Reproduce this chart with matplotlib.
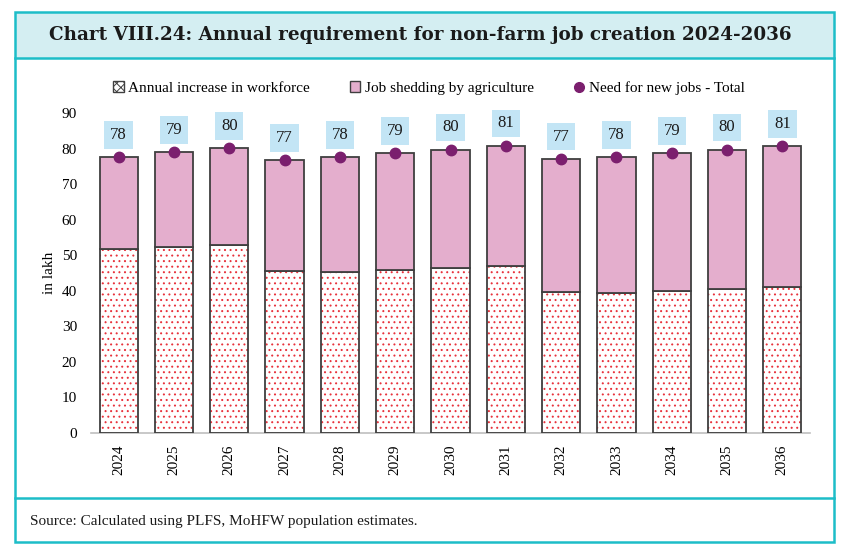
import matplotlib.pyplot as plt
import matplotlib.patches as mpatches
from matplotlib.lines import Line2D
import numpy as np

plt.rcParams['font.family'] = ['Liberation Serif', 'DejaVu Serif']
plt.rcParams['hatch.linewidth'] = 0.7

# data (lakh)
years = ['2024', '2025', '2026', '2027', '2028', '2029', '2030',
         '2031', '2032', '2033', '2034', '2035', '2036']
workforce = [51.7, 52.3, 52.9, 45.5, 45.3, 45.9, 46.3, 47.0, 39.7, 39.5, 40.0, 40.5, 41.0]
total = [77.6, 78.9, 80.1, 76.8, 77.5, 78.7, 79.7, 80.8, 77.1, 77.6, 78.7, 79.7, 80.7]
shedding = [t - w for t, w in zip(total, workforce)]

teal = '#1DBDC8'
pink = '#E4AECD'
purple = '#7B1F6E'
edge = '#3F3F3F'

fig = plt.figure(figsize=(8.41, 5.55), dpi=100)
W, H = 841, 555

# frame, title band and footnote band
fig.patches.append(mpatches.Rectangle((15 / W, 1 - 58 / H), 819 / W, 46 / H,
                                      transform=fig.transFigure, facecolor='#D4EEF2',
                                      edgecolor='none', zorder=0))
fig.patches.append(mpatches.Rectangle((15 / W, 1 - 542 / H), 819 / W, 530 / H,
                                      transform=fig.transFigure, facecolor='none',
                                      edgecolor=teal, linewidth=1.8, zorder=1))
for yy in (58, 498):
    fig.add_artist(Line2D([15 / W, 834 / W], [1 - yy / H, 1 - yy / H],
                          transform=fig.transFigure, color=teal, linewidth=1.8))

fig.text(0.5, 1 - 35 / H, 'Chart VIII.24: Annual requirement for non-farm job creation 2024-2036',
         ha='center', va='center', fontsize=13.2, fontweight='bold', color='#1A1A1A',
         family='DejaVu Serif')
fig.text(30 / W, 1 - 521 / H, 'Source: Calculated using PLFS, MoHFW population estimates.',
         ha='left', va='center', fontsize=11, color='#1A1A1A')

ax = fig.add_axes([91 / W, 1 - 433 / H, 719 / W, 320 / H])
x = np.arange(len(years))
bw = 0.69

# hatched workforce bars: red dots on white, then dark outline on top
ax.bar(x, workforce, bw, color='white', edgecolor='#E8323C', hatch='...', linewidth=0, zorder=2)
ax.bar(x, workforce, bw, color='none', edgecolor=edge, linewidth=1.3, zorder=3)
ax.bar(x, shedding, bw, bottom=workforce, color=pink, edgecolor=edge, linewidth=1.3, zorder=3)
ax.plot(x, total, 'o', color=purple, markersize=7.5, linestyle='none', zorder=4)

for xi, t in zip(x, total):
    ax.annotate(f'{round(t)}', (xi, t), xytext=(0, 16), textcoords='offset points',
                ha='center', va='center', fontsize=12, color='#1A1A1A',
                bbox=dict(boxstyle='square,pad=0.35', facecolor='#C3E5F5', edgecolor='none'))

ax.set_xlim(-0.5, len(years) - 0.5)
ax.set_ylim(0, 90)
ax.set_yticks(range(0, 91, 10))
ax.set_xticks(x)
ax.set_xticklabels(years, rotation=90, fontsize=11)
ax.tick_params(axis='y', labelsize=11, length=0, pad=10)
ax.tick_params(axis='x', length=0, pad=8)
for s in ('top', 'right', 'left'):
    ax.spines[s].set_visible(False)
ax.spines['bottom'].set_color('#BFBFBF')
ax.spines['bottom'].set_linewidth(1.2)
ax.set_ylabel('in lakh', fontsize=11, labelpad=4)

handles = [
    mpatches.Patch(facecolor='white', edgecolor=edge, hatch='xxxx', label='Annual increase in workforce'),
    mpatches.Patch(facecolor=pink, edgecolor=edge, label='Job shedding by agriculture'),
    Line2D([], [], marker='o', color=purple, linestyle='none', markersize=7,
           label='Need for new jobs - Total'),
]
fig.legend(handles=handles, loc='center', bbox_to_anchor=(0.51, 1 - 88 / H), ncol=3,
           frameon=False, fontsize=11, handlelength=0.7, handleheight=0.7,
           handletextpad=0.3, columnspacing=2.6)

fig.savefig('out.png', dpi=100)
